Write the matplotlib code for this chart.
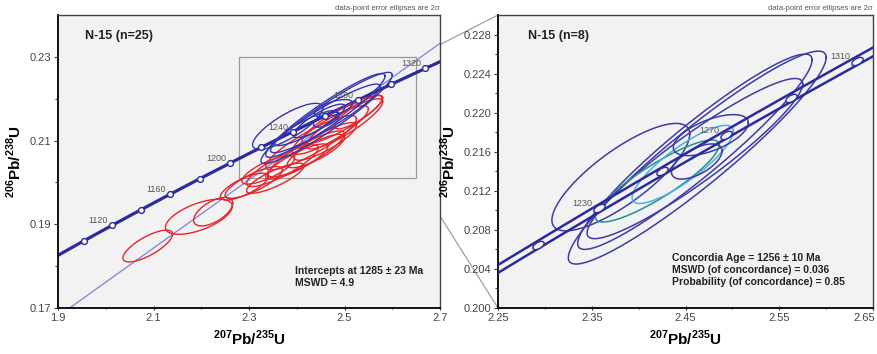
import numpy as np
import matplotlib
matplotlib.use("Agg")
import matplotlib.pyplot as plt
from matplotlib.patches import Rectangle, ConnectionPatch
from matplotlib.markers import MarkerStyle
from matplotlib.transforms import Affine2D, ScaledTranslation

plt.rcParams['font.family'] = ['Liberation Sans', 'DejaVu Sans']
plt.rcParams['mathtext.fontset'] = 'custom'
plt.rcParams['mathtext.rm'] = 'Liberation Sans:bold'
plt.rcParams['mathtext.bf'] = 'Liberation Sans:bold'

# ---------------- data ----------------
# decay constants (1/yr) and concordia-band relative uncertainty
LAMBDA_238 = 1.55125e-10
LAMBDA_235 = 9.8485e-10
BAND_REL = 0.0018

left_marker_ages = list(range(1100, 1341, 20))
left_label_ages = [1120, 1160, 1200, 1240, 1280, 1320]
right_marker_ages = list(range(1210, 1321, 20))
right_label_ages = [1230, 1270, 1310]

upper_intercept_age = 1285
lower_intercept_age = 190

# concordant analyses (blue) : centre x, centre y, 2s half-width x, 2s half-height y, rho
blue_x = [2.4625, 2.460, 2.460, 2.381, 2.420, 2.447, 2.477, 2.462]
blue_y = [0.2154, 0.2160, 0.2153, 0.2134, 0.2130, 0.2147, 0.2177, 0.2150]
blue_sx = [0.1375, 0.125, 0.115, 0.0735, 0.066, 0.054, 0.040, 0.027]
blue_sy = [0.0109, 0.0100, 0.0082, 0.0055, 0.0042, 0.0040, 0.0021, 0.0018]
blue_rho = [0.94, 0.94, 0.93, 0.80, 0.88, 0.85, 0.60, 0.60]
blue_color_right = ['#3b3ba8', '#3b3ba8', '#3b3ba8', '#3b3ba8',
                    '#23908f', '#4aaee0', '#3b3ba8', '#3b3ba8']

# discordant analyses (red)
red_x = [2.088, 2.195, 2.225, 2.310, 2.290, 2.355, 2.370, 2.400, 2.420,
         2.440, 2.430, 2.460, 2.470, 2.500, 2.495, 2.530, 2.340]
red_y = [0.1848, 0.1918, 0.1930, 0.2000, 0.1990, 0.2010, 0.2040, 0.2050, 0.2068,
         0.2075, 0.2095, 0.2098, 0.2125, 0.2140, 0.2150, 0.2168, 0.2030]
red_sx = [0.052, 0.070, 0.041, 0.060, 0.050, 0.060, 0.075, 0.065, 0.080,
          0.060, 0.095, 0.065, 0.080, 0.080, 0.084, 0.050, 0.055]
red_sy = [0.0038, 0.0042, 0.0034, 0.0038, 0.0032, 0.0036, 0.0050, 0.0042, 0.0055,
          0.0040, 0.0065, 0.0045, 0.0058, 0.0060, 0.0058, 0.0040, 0.0034]
red_rho = [0.75, 0.60, 0.60, 0.80, 0.75, 0.82, 0.85, 0.85, 0.87,
           0.82, 0.88, 0.85, 0.87, 0.88, 0.88, 0.85, 0.78]

zoom_box_x = [2.28, 2.65]
zoom_box_y = [0.201, 0.230]

left_xticks = [1.9, 2.1, 2.3, 2.5, 2.7]
left_yticks = [0.17, 0.19, 0.21, 0.23]
right_xticks = [2.25, 2.35, 2.45, 2.55, 2.65]
right_yticks = [0.200, 0.204, 0.208, 0.212, 0.216, 0.220, 0.224, 0.228]

left_title = "N-15 (n=25)"
right_title = "N-15 (n=8)"
left_result = "Intercepts at 1285 \u00b1 23 Ma\nMSWD = 4.9"
right_result = ("Concordia Age = 1256 \u00b1 10 Ma\nMSWD (of concordance) = 0.036\n"
                "Probability (of concordance) = 0.85")
note = "data-point error ellipses are 2\u03c3"

# ---------------- helpers ----------------
def concordia(t_ma, rel=0.0):
    t = np.asarray(t_ma, dtype=float) * 1e6
    return np.exp(LAMBDA_235 * (1 + rel) * t) - 1, np.exp(LAMBDA_238 * t) - 1


def draw_ellipse(ax, cx, cy, sx, sy, rho, color, lw):
    th = np.linspace(0, 2 * np.pi, 240)
    x = cx + sx * np.cos(th)
    y = cy + sy * (rho * np.cos(th) + np.sqrt(1 - rho ** 2) * np.sin(th))
    ax.plot(x, y, color=color, lw=lw, zorder=3)


BG = '#f2f2f2'
CONC = '#2b2b9c'
fig = plt.figure(figsize=(8.77, 3.54), dpi=100)
axL = fig.add_axes([58 / 877, 46 / 354, 382 / 877, 293 / 354])
axR = fig.add_axes([498 / 877, 46 / 354, 375 / 877, 293 / 354])

for ax in (axL, axR):
    ax.set_facecolor(BG)
    for s in ax.spines.values():
        s.set_color('#444444')
        s.set_linewidth(1.0)
    for s in ('left', 'bottom'):
        ax.spines[s].set_color('#111111')
        ax.spines[s].set_linewidth(1.4)
    ax.tick_params(axis='both', which='major', labelsize=8, labelcolor='#444444',
                   length=3, width=0.8, color='#333333', pad=2)
    ax.tick_params(axis='both', which='minor', length=2, width=0.8, color='#333333')
    ax.tick_params(axis='x', which='both', direction='inout')
    ax.tick_params(axis='y', which='both', direction='out')
    ax.set_xlabel(r'$^{207}$Pb/$^{235}$U', fontsize=11, fontweight='bold', labelpad=4)
    ax.set_ylabel(r'$^{206}$Pb/$^{238}$U', fontsize=11, fontweight='bold', labelpad=4)

# ---------------- left panel ----------------
axL.set_xlim(1.9, 2.7)
axL.set_ylim(0.17, 0.24)
axL.set_xticks(left_xticks)
axL.set_xticklabels([f"{v:g}" for v in left_xticks])
axL.set_yticks(left_yticks)
axL.set_yticklabels([f"{v:g}" for v in left_yticks])
axL.set_xticks(np.arange(2.0, 2.7, 0.2), minor=True)
axL.set_yticks([0.18, 0.20, 0.22], minor=True)

# discordia line
ux, uy = concordia(upper_intercept_age)
lx, ly = concordia(lower_intercept_age)
xs = np.linspace(1.85, 2.75, 10)
axL.plot(xs, ly + (uy - ly) / (ux - lx) * (xs - lx), color='#8a8ad8', lw=1.0, zorder=2)

# concordia curve
tt = np.linspace(1000, 1400, 400)
cx_, cy_ = concordia(tt)
axL.plot(cx_, cy_, color=CONC, lw=2.3, zorder=2)

for i in range(len(red_x)):
    draw_ellipse(axL, red_x[i], red_y[i], red_sx[i], red_sy[i], red_rho[i], '#e3262b', 1.0)
for i in range(len(blue_x)):
    draw_ellipse(axL, blue_x[i], blue_y[i], blue_sx[i], blue_sy[i], blue_rho[i], '#3535b0', 1.0)

mx, my = concordia(left_marker_ages)
axL.plot(mx, my, 'o', ms=4.2, mfc='white', mec=CONC, mew=1.0, zorder=5, ls='none')
for a in left_label_ages:
    x, y = concordia(a)
    axL.annotate(str(a), (x, y), xytext=(-3, 0), textcoords='offset points',
                 ha='right', va='bottom', fontsize=6.5, color='#555555', zorder=6)

axL.add_patch(Rectangle((zoom_box_x[0], zoom_box_y[0]), zoom_box_x[1] - zoom_box_x[0],
                        zoom_box_y[1] - zoom_box_y[0], fill=False, ec='#9a9a9a', lw=0.9,
                        zorder=1))

axL.text(0.07, 0.93, left_title, transform=axL.transAxes, fontsize=9,
         fontweight='bold', color='#222222', va='center', ha='left')
axL.text(0.62, 0.105, left_result, transform=axL.transAxes, fontsize=7.5,
         fontweight='bold', color='#222222', va='center', ha='left', linespacing=1.2)
axL.text(1.0, 1.01, note, transform=axL.transAxes, fontsize=5.5, color='#555555',
         ha='right', va='bottom')

# ---------------- right panel ----------------
axR.set_xlim(2.25, 2.65)
axR.set_ylim(0.200, 0.230)
axR.set_xticks(right_xticks)
axR.set_xticklabels([f"{v:.2f}" for v in right_xticks])
axR.set_yticks(right_yticks)
axR.set_yticklabels([f"{v:.3f}" for v in right_yticks])
axR.set_xticks(np.arange(2.30, 2.65, 0.10), minor=True)
axR.set_yticks(np.arange(0.202, 0.2295, 0.004), minor=True)
last = axR.xaxis.get_major_ticks()[-1].label1
last.set_transform(last.get_transform() + ScaledTranslation(-6 / 72, 0, fig.dpi_scale_trans))

tt = np.linspace(1150, 1360, 400)
for rel in (-BAND_REL, BAND_REL):
    bx, by = concordia(tt, rel)
    axR.plot(bx, by, color=CONC, lw=1.8, zorder=4)

for i in range(len(blue_x)):
    draw_ellipse(axR, blue_x[i], blue_y[i], blue_sx[i], blue_sy[i], blue_rho[i],
                 blue_color_right[i], 1.1)

mk = MarkerStyle('o', transform=Affine2D().scale(2.0, 1.0).rotate_deg(30))
rx, ry = concordia(right_marker_ages)
axR.plot(rx, ry, marker=mk, ms=4.5, mfc=BG, mec=CONC, mew=1.0, ls='none', zorder=5)
for a in right_label_ages:
    x, y = concordia(a)
    axR.annotate(str(a), (x, y), xytext=(-5, 0), textcoords='offset points',
                 ha='right', va='bottom', fontsize=6.5, color='#555555', zorder=6)

axR.text(0.08, 0.93, right_title, transform=axR.transAxes, fontsize=9,
         fontweight='bold', color='#222222', va='center', ha='left')
axR.text(0.465, 0.13, right_result, transform=axR.transAxes, fontsize=7.5,
         fontweight='bold', color='#222222', va='center', ha='left', linespacing=1.25)
axR.text(1.0, 1.01, note, transform=axR.transAxes, fontsize=5.5, color='#555555',
         ha='right', va='bottom')

# connector lines from zoom box to right panel
for yb, ya in ((zoom_box_y[1], 1.0), (zoom_box_y[0], 0.0)):
    con = ConnectionPatch(xyA=(zoom_box_x[1], yb), coordsA=axL.transData,
                          xyB=(0.0, ya), coordsB=axR.transAxes,
                          color='#a0a0a0', lw=0.9, zorder=0)
    fig.add_artist(con)

fig.savefig('out.png', dpi=100, facecolor='white')
